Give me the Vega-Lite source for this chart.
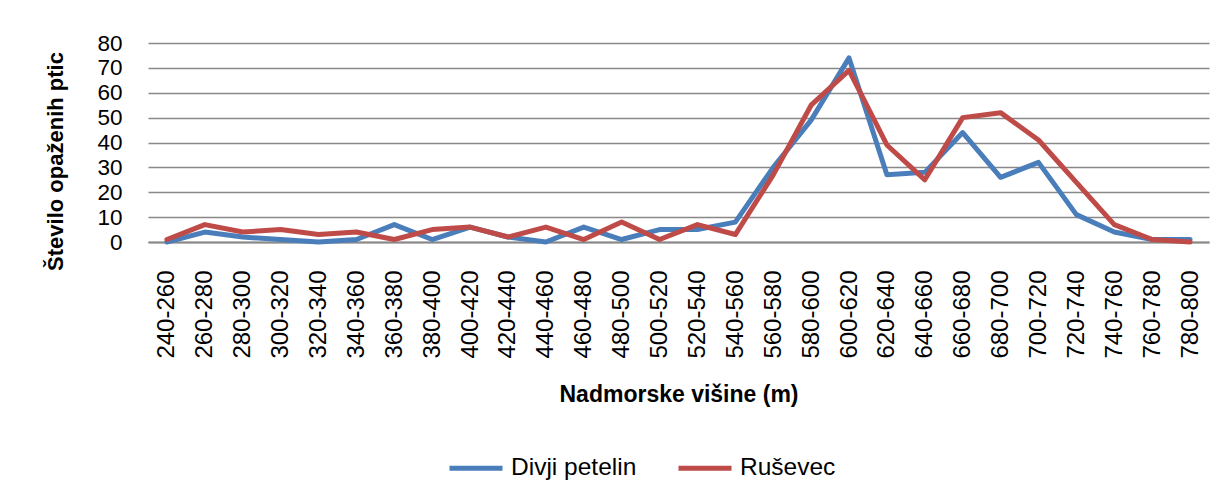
{
  "$schema": "https://vega.github.io/schema/vega-lite/v6.json",
  "width": 1061,
  "height": 199,
  "autosize": "none",
  "padding": {"left": 148, "top": 43, "right": 18, "bottom": 258},
  "background": "white",
  "config": {
    "view": {"stroke": null},
    "font": "Liberation Sans"
  },
  "data": {
    "values": [
      {"h": "240-260", "s": "Divji petelin", "v": 0},
      {"h": "260-280", "s": "Divji petelin", "v": 4},
      {"h": "280-300", "s": "Divji petelin", "v": 2},
      {"h": "300-320", "s": "Divji petelin", "v": 1},
      {"h": "320-340", "s": "Divji petelin", "v": 0},
      {"h": "340-360", "s": "Divji petelin", "v": 1},
      {"h": "360-380", "s": "Divji petelin", "v": 7},
      {"h": "380-400", "s": "Divji petelin", "v": 1},
      {"h": "400-420", "s": "Divji petelin", "v": 6},
      {"h": "420-440", "s": "Divji petelin", "v": 2},
      {"h": "440-460", "s": "Divji petelin", "v": 0},
      {"h": "460-480", "s": "Divji petelin", "v": 6},
      {"h": "480-500", "s": "Divji petelin", "v": 1},
      {"h": "500-520", "s": "Divji petelin", "v": 5},
      {"h": "520-540", "s": "Divji petelin", "v": 5},
      {"h": "540-560", "s": "Divji petelin", "v": 8},
      {"h": "560-580", "s": "Divji petelin", "v": 30},
      {"h": "580-600", "s": "Divji petelin", "v": 49},
      {"h": "600-620", "s": "Divji petelin", "v": 74},
      {"h": "620-640", "s": "Divji petelin", "v": 27},
      {"h": "640-660", "s": "Divji petelin", "v": 28},
      {"h": "660-680", "s": "Divji petelin", "v": 44},
      {"h": "680-700", "s": "Divji petelin", "v": 26},
      {"h": "700-720", "s": "Divji petelin", "v": 32},
      {"h": "720-740", "s": "Divji petelin", "v": 11},
      {"h": "740-760", "s": "Divji petelin", "v": 4},
      {"h": "760-780", "s": "Divji petelin", "v": 1},
      {"h": "780-800", "s": "Divji petelin", "v": 1},
      {"h": "240-260", "s": "Ruševec", "v": 1},
      {"h": "260-280", "s": "Ruševec", "v": 7},
      {"h": "280-300", "s": "Ruševec", "v": 4},
      {"h": "300-320", "s": "Ruševec", "v": 5},
      {"h": "320-340", "s": "Ruševec", "v": 3},
      {"h": "340-360", "s": "Ruševec", "v": 4},
      {"h": "360-380", "s": "Ruševec", "v": 1},
      {"h": "380-400", "s": "Ruševec", "v": 5},
      {"h": "400-420", "s": "Ruševec", "v": 6},
      {"h": "420-440", "s": "Ruševec", "v": 2},
      {"h": "440-460", "s": "Ruševec", "v": 6},
      {"h": "460-480", "s": "Ruševec", "v": 1},
      {"h": "480-500", "s": "Ruševec", "v": 8},
      {"h": "500-520", "s": "Ruševec", "v": 1},
      {"h": "520-540", "s": "Ruševec", "v": 7},
      {"h": "540-560", "s": "Ruševec", "v": 3},
      {"h": "560-580", "s": "Ruševec", "v": 27},
      {"h": "580-600", "s": "Ruševec", "v": 55},
      {"h": "600-620", "s": "Ruševec", "v": 69},
      {"h": "620-640", "s": "Ruševec", "v": 39},
      {"h": "640-660", "s": "Ruševec", "v": 25},
      {"h": "660-680", "s": "Ruševec", "v": 50},
      {"h": "680-700", "s": "Ruševec", "v": 52},
      {"h": "700-720", "s": "Ruševec", "v": 41},
      {"h": "720-740", "s": "Ruševec", "v": 24},
      {"h": "740-760", "s": "Ruševec", "v": 7},
      {"h": "760-780", "s": "Ruševec", "v": 1},
      {"h": "780-800", "s": "Ruševec", "v": 0}
    ]
  },
  "mark": {"type": "line", "strokeWidth": 5, "strokeJoin": "round", "strokeCap": "round"},
  "encoding": {
    "x": {
      "field": "h",
      "type": "ordinal",
      "sort": null,
      "scale": {"type": "point", "padding": 0.5},
      "axis": {
        "title": "Nadmorske višine (m)",
        "titleFont": "Liberation Sans",
        "titleFontSize": 23,
        "titleFontWeight": "bold",
        "titleColor": "black",
        "titleBaseline": "alphabetic",
        "titleY": 159,
        "labelAngle": -90,
        "labelFontSize": 24,
        "labelColor": "black",
        "labelPadding": 28,
        "labelAlign": "right",
        "labelBaseline": "middle",
        "ticks": false,
        "grid": false,
        "domainColor": "#898989",
        "domainWidth": 2
      }
    },
    "y": {
      "field": "v",
      "type": "quantitative",
      "scale": {"domain": [0, 80], "nice": false},
      "axis": {
        "title": "Število opaženih ptic",
        "titleFont": "Liberation Sans",
        "titleFontSize": 22,
        "titleFontWeight": "bold",
        "titleColor": "black",
        "titleAngle": -90,
        "titleBaseline": "alphabetic",
        "titleAlign": "center",
        "titleX": -86,
        "titleY": 118,
        "values": [0, 10, 20, 30, 40, 50, 60, 70, 80],
        "labelFontSize": 22.5,
        "labelColor": "black",
        "labelPadding": 26,
        "ticks": false,
        "domain": false,
        "grid": true,
        "gridColor": "#898989",
        "gridWidth": 1.5
      }
    },
    "color": {
      "field": "s",
      "type": "nominal",
      "sort": ["Divji petelin", "Ruševec"],
      "scale": {"domain": ["Divji petelin", "Ruševec"], "range": ["#4A7EBB", "#BE4B48"]},
      "legend": {
        "title": null,
        "orient": "none",
        "direction": "horizontal",
        "legendX": 299,
        "legendY": 396,
        "padding": 0,
        "symbolType": "stroke",
        "symbolSize": 2809,
        "symbolStrokeWidth": 5,
        "labelFontSize": 24.5,
        "labelColor": "black",
        "labelOffset": 6,
        "columnPadding": 31
      }
    }
  }
}
